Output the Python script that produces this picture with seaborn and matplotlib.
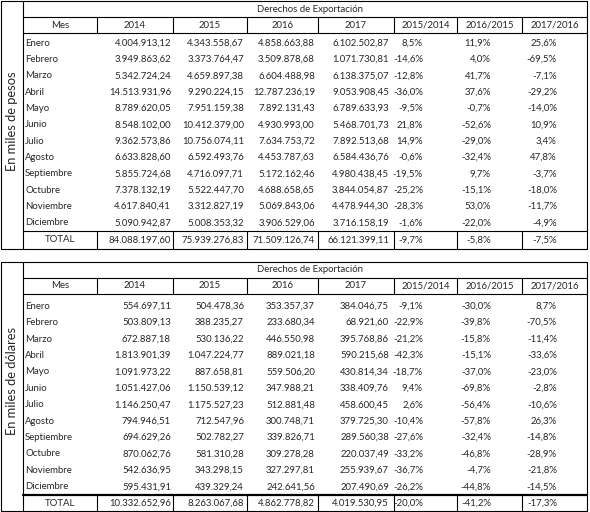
import numpy as np
import pandas as pd
import seaborn as sns
import matplotlib.pyplot as plt

meses = ["Enero", "Febrero", "Marzo", "Abril", "Mayo", "Junio", "Julio", "Agosto",
         "Septiembre", "Octubre", "Noviembre", "Diciembre"]
encabezados = ["Mes", "2014", "2015", "2016", "2017", "2015/2014", "2016/2015", "2017/2016"]

# En miles de pesos
pesos_2014 = [4004913.12, 3949863.62, 5342724.24, 14513931.96, 8789620.05, 8548102.00,
              9362573.86, 6633828.60, 5855724.68, 7378132.19, 4617840.41, 5090942.87]
pesos_2015 = [4343558.67, 3373764.47, 4659897.38, 9290224.15, 7951159.38, 10412379.00,
              10756074.11, 6592493.76, 4716097.71, 5522447.70, 3312827.19, 5008353.32]
pesos_2016 = [4858663.88, 3509878.68, 6604488.98, 12787236.19, 7892131.43, 4930993.00,
              7634753.72, 4453787.63, 5172162.46, 4688658.65, 5069843.06, 3906529.06]
pesos_2017 = [6102502.87, 1071730.81, 6138375.07, 9053908.45, 6789633.93, 5468701.73,
              7892513.68, 6584436.76, 4980438.45, 3844054.87, 4478944.30, 3716158.19]
pesos_var_15_14 = [8.5, -14.6, -12.8, -36.0, -9.5, 21.8, 14.9, -0.6, -19.5, -25.2, -28.3, -1.6]
pesos_var_16_15 = [11.9, 4.0, 41.7, 37.6, -0.7, -52.6, -29.0, -32.4, 9.7, -15.1, 53.0, -22.0]
pesos_var_17_16 = [25.6, -69.5, -7.1, -29.2, -14.0, 10.9, 3.4, 47.8, -3.7, -18.0, -11.7, -4.9]
pesos_total = [84088197.60, 75939276.83, 71509126.74, 66121399.11, -9.7, -5.8, -7.5]

# En miles de dólares
dolares_2014 = [554697.11, 503809.13, 672887.18, 1813901.39, 1091973.22, 1051427.06,
                1146250.47, 794946.51, 694629.26, 870062.76, 542636.95, 595431.91]
dolares_2015 = [504478.36, 388235.27, 530136.22, 1047224.77, 887658.81, 1150539.12,
                1175527.23, 712547.96, 502782.27, 581310.28, 343298.15, 439329.24]
dolares_2016 = [353357.37, 233680.34, 446550.98, 889021.18, 559506.20, 347988.21,
                512881.48, 300748.71, 339826.71, 309278.28, 327297.81, 242641.56]
dolares_2017 = [384046.75, 68921.60, 395768.86, 590215.68, 430814.34, 338409.76,
                458600.45, 379725.30, 289560.38, 220037.49, 255939.67, 207490.69]
dolares_var_15_14 = [-9.1, -22.9, -21.2, -42.3, -18.7, 9.4, 2.6, -10.4, -27.6, -33.2, -36.7, -26.2]
dolares_var_16_15 = [-30.0, -39.8, -15.8, -15.1, -37.0, -69.8, -56.4, -57.8, -32.4, -46.8, -4.7, -44.8]
dolares_var_17_16 = [8.7, -70.5, -11.4, -33.6, -23.0, -2.8, -10.6, 26.3, -14.8, -28.9, -21.8, -14.5]
dolares_total = [10332652.96, 8263067.68, 4862778.82, 4019530.95, -20.0, -41.2, -17.3]


def fmt_num(v):
    return f"{v:,.2f}".replace(",", "X").replace(".", ",").replace("X", ".")


def fmt_pct(v):
    return f"{v:.1f}%".replace(".", ",")


def make_df(c14, c15, c16, c17, p1, p2, p3):
    return pd.DataFrame({"Mes": meses, "2014": c14, "2015": c15, "2016": c16, "2017": c17,
                         "2015/2014": p1, "2016/2015": p2, "2017/2016": p3})


sns.set_theme(style="white")
plt.rcParams["font.family"] = ["Lato", "DejaVu Sans"]

fig = plt.figure(figsize=(5.9, 5.12), dpi=100)
ax = fig.add_axes([0, 0, 1, 1])
ax.set_xlim(0, 590)
ax.set_ylim(512, 0)
ax.axis("off")

col_edges = [1, 23, 97, 173, 247, 318, 394, 457, 522, 587]
right_edges = [None, 171, 244, 315, 389, 423, 491, 557]
fs = 6.9
lw = 0.8


def draw_table(df, total, label, top, data_top, total_top, bottom, label_y, total_lw):
    h1 = top + 16
    h2 = top + 32
    x0, x1 = col_edges[1], col_edges[-1]
    # caja de la etiqueta lateral y marco
    ax.plot([col_edges[0], col_edges[0]], [top, bottom], color="black", lw=lw)
    ax.plot([col_edges[0], x1], [top, top], color="black", lw=lw)
    ax.plot([col_edges[0], x1], [bottom, bottom], color="black", lw=lw)
    ax.plot([x0, x0], [top, bottom], color="black", lw=lw)
    ax.plot([x1, x1], [top, bottom], color="black", lw=lw)
    ax.plot([x0, x1], [h1, h1], color="black", lw=lw)
    ax.plot([x0, x1], [h2, h2], color="black", lw=lw)
    ax.plot([x0, x1], [total_top, total_top], color="black", lw=total_lw)
    for xe in col_edges[2:-1]:
        ax.plot([xe, xe], [h1, h2], color="black", lw=lw)
        ax.plot([xe, xe], [total_top, bottom], color="black", lw=lw)

    ax.text(12, label_y, label, rotation=90, ha="center", va="center", fontsize=9.3)
    ax.text((x0 + x1) / 2 + 5, (top + h1) / 2, "Derechos de Exportación",
            ha="center", va="center", fontsize=fs)
    for j, name in enumerate(encabezados):
        xc = (col_edges[j + 1] + col_edges[j + 2]) / 2
        ax.text(xc, (h1 + h2) / 2, name, ha="center", va="center", fontsize=fs)

    pitch = (total_top - data_top) / len(df)
    for i, row in df.iterrows():
        y = data_top + pitch * (i + 0.5)
        ax.text(col_edges[1] + 2, y, row["Mes"], ha="left", va="center", fontsize=fs)
        for j, name in enumerate(encabezados[1:], start=1):
            v = row[name]
            txt = fmt_num(v) if j <= 4 else fmt_pct(v)
            ax.text(right_edges[j], y, txt, ha="right", va="center", fontsize=fs)

    yt = (total_top + bottom) / 2
    ax.text((col_edges[1] + col_edges[2]) / 2, yt, "TOTAL", ha="center", va="center", fontsize=fs)
    for j, v in enumerate(total, start=1):
        txt = fmt_num(v) if j <= 4 else fmt_pct(v)
        ax.text(right_edges[j], yt, txt, ha="right", va="center", fontsize=fs)


df_pesos = make_df(pesos_2014, pesos_2015, pesos_2016, pesos_2017,
                   pesos_var_15_14, pesos_var_16_15, pesos_var_17_16)
df_dolares = make_df(dolares_2014, dolares_2015, dolares_2016, dolares_2017,
                     dolares_var_15_14, dolares_var_16_15, dolares_var_17_16)

draw_table(df_pesos, pesos_total, "En miles de pesos", 1, 35, 231, 249, 121, lw)
draw_table(df_dolares, dolares_total, "En miles de dólares", 262, 298, 495, 511, 381, 1.6)

fig.savefig("out.png", dpi=100, facecolor="white")
